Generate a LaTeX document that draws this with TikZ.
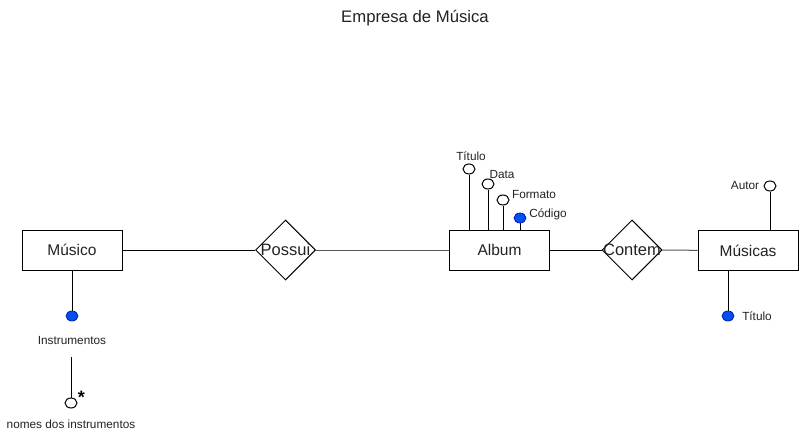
\documentclass[tikz,border=0pt]{standalone}
\usepackage{fontspec}
\setmainfont{Liberation Sans}
\usetikzlibrary{shapes.geometric}
\definecolor{keyblue}{HTML}{0050EF}
\definecolor{keyborder}{HTML}{001DBC}
\definecolor{txt}{HTML}{222222}
\definecolor{grayline}{HTML}{555555}
\begin{document}
\begin{tikzpicture}[x=1pt,y=-1pt,
  entity/.style={draw, line width=1pt, minimum width=100pt, minimum height=40pt, inner sep=0pt, font=\fontsize{15.5}{18}\selectfont, text=txt},
  rel/.style={draw, diamond, aspect=1, minimum size=60pt, inner sep=0pt, line width=1pt},
  reltext/.style={font=\fontsize{16.5}{19}\selectfont, text=txt, inner sep=0pt},
  keyattr/.style={ellipse, fill=keyblue, draw=keyborder, line width=0.8pt, minimum width=12pt, minimum height=10pt, inner sep=0pt},
  attr/.style={ellipse, draw, fill=white, line width=1pt, minimum width=12pt, minimum height=10pt, inner sep=0pt},
  lbl/.style={font=\fontsize{11.8}{13}\selectfont, text=txt, inner sep=0pt},
  conn/.style={line width=1pt}]
\useasboundingbox (0,0) rectangle (799,444);

\node[font=\fontsize{16.7}{19}\selectfont, text=txt] (title) at (415,18) {Empresa de Música};

% entities and relationships
\node[entity] (musico) at (72,250) {Músico};
\node[rel] (possui) at (285.5,250) {};
\node[reltext] (possuit) at (possui) {Possui};
\node[entity] (album) at (499.5,250) {Album};
\node[rel] (contem) at (632,250) {};
\node[reltext] (contemt) at (contem) {Contem};
\node[entity] (musicas) at (748,250.5) {Músicas};

\draw[conn] (musico) -- (possui);
\draw[conn, grayline] (possui) -- (album);
\draw[conn] (album) -- (contem);
\draw[conn, grayline] (contem) -- (musicas);

% album attributes
\node[attr] (atit) at (469,169) {};
\node[attr] (adata) at (488,184) {};
\node[attr] (aform) at (503,200) {};
\node[keyattr] (acod) at (520,218) {};
\draw[conn] (atit) -- (atit |- album.north);
\draw[conn] (adata) -- (adata |- album.north);
\draw[conn] (aform) -- (aform |- album.north);
\draw[conn] (acod) -- (acod |- album.north);
\node[lbl] (latit) at (471,156) {Título};
\node[lbl] (ladata) at (502,174) {Data};
\node[lbl] (laform) at (534,194) {Formato};
\node[lbl] (lacod) at (548,214) {Código};

% musicas attributes
\node[attr] (autor) at (770,186) {};
\draw[conn] (autor) -- (autor |- musicas.north);
\node[lbl] (lautor) at (745,185) {Autor};
\node[keyattr] (mtit) at (728,316) {};
\draw[conn] (mtit) -- (mtit |- musicas.south);
\node[lbl] (lmtit) at (757,316) {Título};

% musico attributes
\node[keyattr] (instr) at (72,316) {};
\draw[conn] (instr) -- (instr |- musico.south);
\node[lbl] (linstr) at (72,340) {Instrumentos};
\coordinate (istart) at (71,357);
\node[attr] (nomes) at (71,403) {};
\draw[conn] (istart) -- (nomes);
\node[font=\fontsize{18}{20}\selectfont\bfseries, inner sep=0pt] (star) at (81.5,397) {*};
\node[lbl] (lnomes) at (71,424) {nomes dos instrumentos};
\end{tikzpicture}
\end{document}
